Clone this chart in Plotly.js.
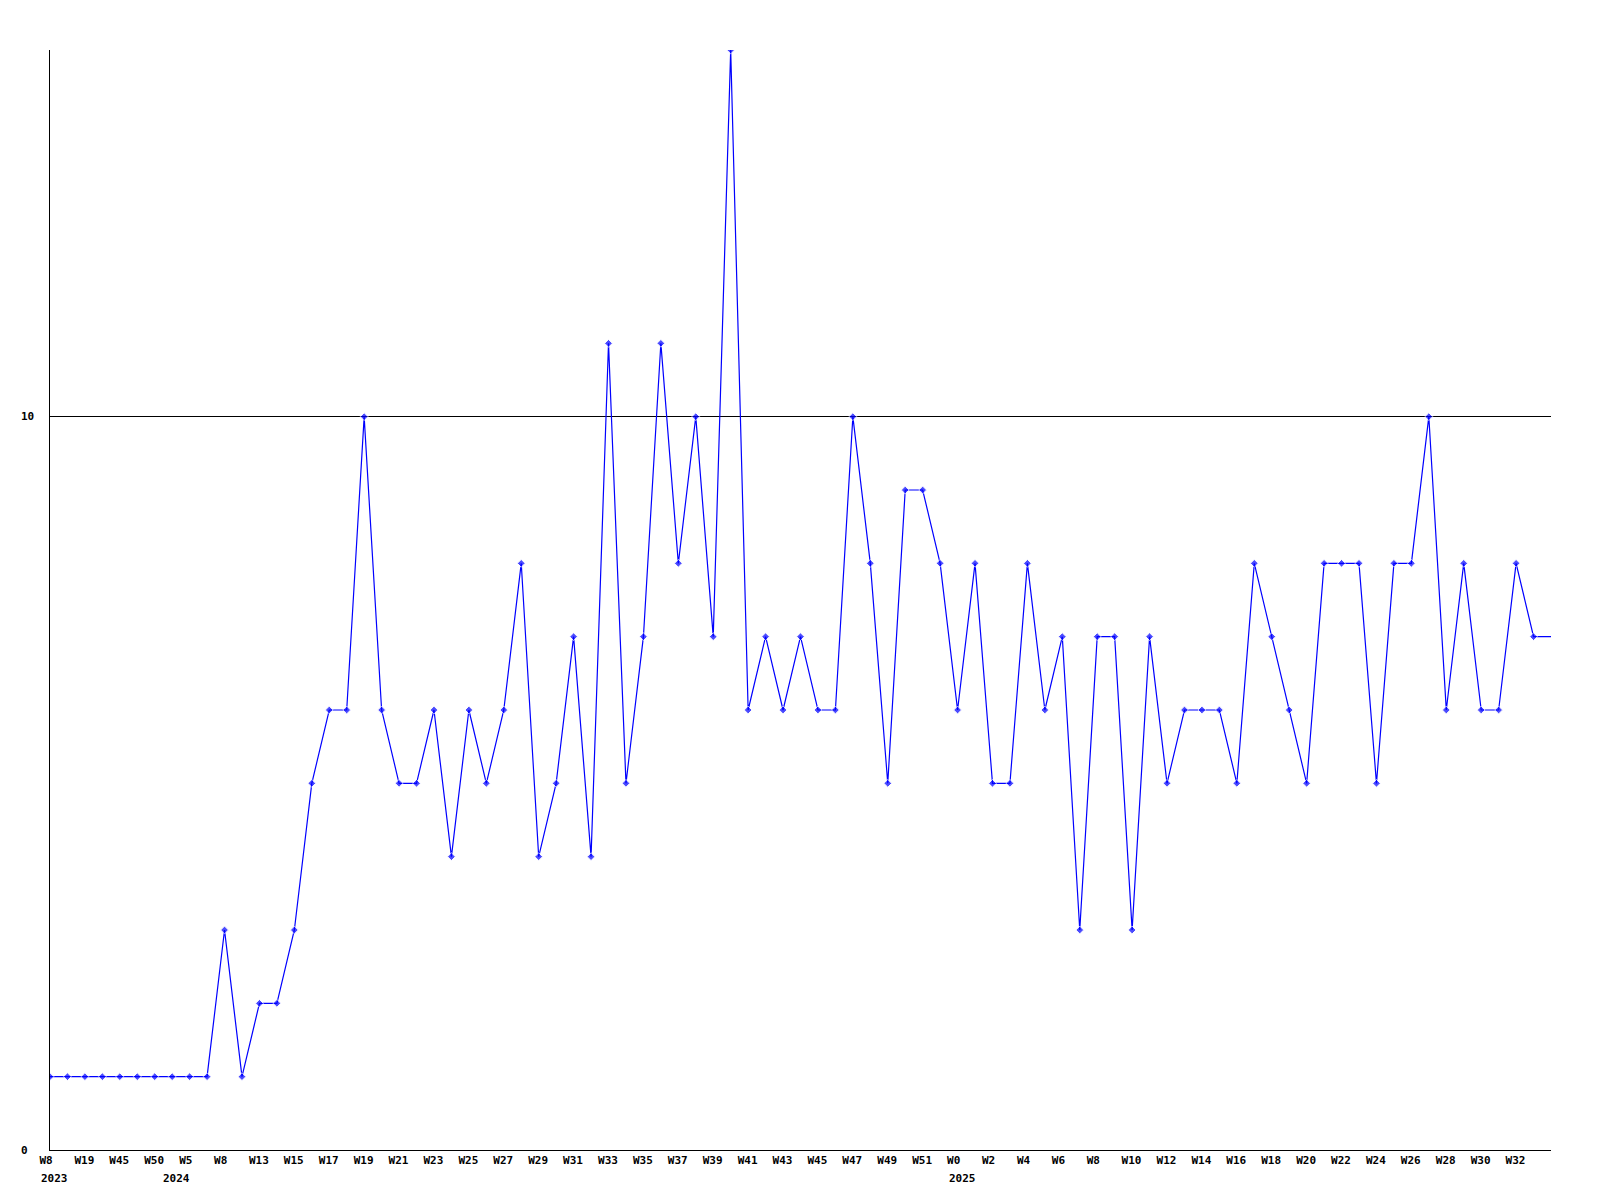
<!DOCTYPE html>
<html>
<head>
<meta charset="utf-8">
<script src="https://cdn.plot.ly/plotly-3.0.1.min.js"></script>
<style>
  html, body { margin: 0; padding: 0; background: #ffffff; }
  #chart { width: 1600px; height: 1200px; }
</style>
</head>
<body>
<div id="chart"></div>
<script>
// ---- data ----
const years = [
  2023, 2023, 2023, 2023, 2023, 2023, 2023,
  2024, 2024, 2024, 2024, 2024, 2024, 2024, 2024, 2024, 2024, 2024, 2024, 2024,
  2024, 2024, 2024, 2024, 2024, 2024, 2024, 2024, 2024, 2024, 2024, 2024, 2024,
  2024, 2024, 2024, 2024, 2024, 2024, 2024, 2024, 2024, 2024, 2024, 2024, 2024,
  2024, 2024, 2024, 2024, 2024, 2024,
  2025, 2025, 2025, 2025, 2025, 2025, 2025, 2025, 2025, 2025, 2025, 2025, 2025,
  2025, 2025, 2025, 2025, 2025, 2025, 2025, 2025, 2025, 2025, 2025, 2025, 2025,
  2025, 2025, 2025, 2025, 2025, 2025, 2025, 2025, 2025
];
const weeks = [
  8, 12, 19, 30, 45, 47, 50,
  2, 5, 6, 8, 10, 13, 14, 15, 16, 17, 18, 19, 20,
  21, 22, 23, 24, 25, 26, 27, 28, 29, 30, 31, 32, 33,
  34, 35, 36, 37, 38, 39, 40, 41, 42, 43, 44, 45, 46,
  47, 48, 49, 50, 51, 52,
  0, 1, 2, 3, 4, 5, 6, 7, 8, 9, 10, 11, 12,
  13, 14, 15, 16, 17, 18, 19, 20, 21, 22, 23, 24, 25,
  26, 27, 28, 29, 30, 31, 32, 33, 34
];
const values = [
  1, 1, 1, 1, 1, 1, 1, 1, 1, 1,
  3, 1, 2, 2, 3, 5, 6, 6, 10, 6,
  5, 5, 6, 4, 6, 5, 6, 8, 4, 5,
  7, 4, 11, 5, 7, 11, 8, 10, 7, 15,
  6, 7, 6, 7, 6, 6, 10, 8, 5, 9,
  9, 8, 6, 8, 5, 5, 8, 6, 7, 3,
  7, 7, 3, 7, 5, 6, 6, 6, 5, 8,
  7, 6, 5, 8, 8, 8, 5, 8, 8, 10,
  6, 8, 6, 6, 8, 7, 7
];
const yTickValues = [0, 10];

// ---- derived ----
const categories = years.map((y, i) => y + '-W' + weeks[i]);
const tickIdx = categories.map((_, i) => i).filter(i => i % 2 === 0 && i < categories.length - 1);
const tickVals = tickIdx.map(i => categories[i]);
const tickText = tickIdx.map(i => 'W' + weeks[i]);
const markerSizes = values.map((_, i) => (i === values.length - 1 ? 0 : 6));

const FONT = { family: 'DejaVu Sans Mono, monospace', size: 11, color: '#000000', weight: 'bold' };

const annotations = [];
years.forEach((y, i) => {
  if (i === 0 || years[i - 1] !== y) {
    annotations.push({
      x: categories[i], xref: 'x', y: 0, yref: 'paper',
      text: String(y), showarrow: false,
      xanchor: 'left', yanchor: 'top', xshift: -11, yshift: -20,
      font: FONT
    });
  }
});
yTickValues.forEach(v => {
  annotations.push({
    x: 0, xref: 'paper', y: v, yref: 'y',
    text: String(v), showarrow: false,
    xanchor: 'left', yanchor: 'middle', xshift: -31,
    font: FONT
  });
});

const trace = {
  type: 'scatter',
  mode: 'lines+markers',
  x: categories,
  y: values,
  line: { color: '#0000ff', width: 1.2 },
  marker: { symbol: 'diamond', size: markerSizes, color: '#0000ff' },
  hoverinfo: 'x+y'
};

const layout = {
  width: 1600,
  height: 1200,
  margin: { l: 50, r: 49, t: 50, b: 50, pad: 0 },
  paper_bgcolor: '#ffffff',
  plot_bgcolor: '#ffffff',
  showlegend: false,
  font: FONT,
  xaxis: {
    type: 'category',
    range: [0, categories.length - 1],
    showline: true, linecolor: '#000000', linewidth: 1,
    showgrid: false, zeroline: false, ticks: '',
    tickmode: 'array', tickvals: tickVals, ticktext: tickText,
    ticklabelposition: 'outside right', ticklabelshift: -11,
    tickangle: 0,
    tickfont: FONT
  },
  yaxis: {
    range: [0, 15],
    showline: true, linecolor: '#000000', linewidth: 1,
    showgrid: true, gridcolor: '#000000', gridwidth: 1,
    zeroline: false, ticks: '',
    tickmode: 'array', tickvals: [10],
    showticklabels: false
  },
  annotations: annotations
};

Plotly.newPlot('chart', [trace], layout, { displayModeBar: false, staticPlot: true });
</script>
</body>
</html>
